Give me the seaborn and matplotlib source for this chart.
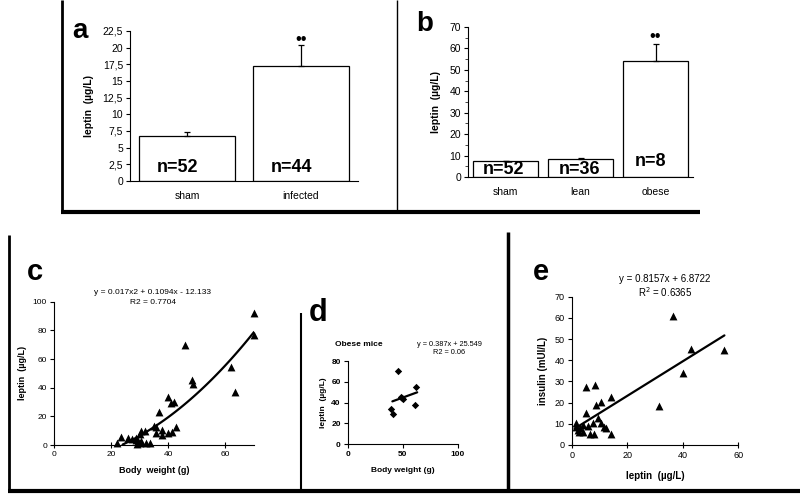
import numpy as np
import pandas as pd
import matplotlib
matplotlib.use("Agg")
import matplotlib.pyplot as plt
from matplotlib.lines import Line2D
import seaborn as sns

sns.set_style("ticks")
plt.rcParams["font.family"] = ["Liberation Sans", "DejaVu Sans"]
plt.rcParams["text.color"] = "black"
plt.rcParams["axes.labelcolor"] = "black"

# ---------------- data ----------------
a_categories = ["sham", "infected"]
a_means = [6.8, 17.3]
a_err = [0.5, 3.1]
a_n = ["n=52", "n=44"]
a_ticks = [0, 2.5, 5, 7.5, 10, 12.5, 15, 17.5, 20, 22.5]
a_ticklabels = ["0", "2,5", "5", "7,5", "10", "12,5", "15", "17,5", "20", "22,5"]

b_categories = ["sham", "lean", "obese"]
b_means = [7.3, 8.3, 54.1]
b_err = [0.4, 0.6, 7.8]
b_n = ["n=52", "n=36", "n=8"]
b_ticks = [0, 10, 20, 30, 40, 50, 60, 70]

c_weight = [70.1, 70.1, 45.8, 62.0, 63.5, 48.4, 48.8, 39.9, 41.0, 41.9, 36.7, 42.8,
            41.2, 39.9, 37.9, 37.9, 35.8, 34.9, 35.8, 31.7, 30.6, 30.0, 28.8, 27.4,
            25.9, 23.6, 21.9, 29.4, 30.0, 32.3, 33.7, 29.0, 28.7, 30.5]
c_leptin = [92.3, 76.5, 69.8, 54.7, 36.7, 45.3, 42.6, 33.3, 29.5, 30.0, 23.3, 12.3,
            9.3, 8.6, 10.5, 7.0, 8.1, 13.3, 12.8, 10.0, 9.8, 7.7, 4.7, 4.0,
            4.7, 5.8, 1.2, 3.0, 1.6, 1.6, 1.6, 0.7, 3.5, 2.5]
c_coef = [0.017, 0.1094, -12.133]
c_fit_range = [24, 70]

d_weight = [45.8, 62.3, 48.2, 49.7, 61.1, 39.5, 40.7, 49.0]
d_leptin = [70.4, 55.0, 45.8, 43.2, 37.4, 33.9, 29.4, 44.5]
d_coef = [0.387, 25.549]
d_fit_range = [40.5, 63]

e_leptin = [36.6, 43.0, 55.0, 40.0, 31.5, 5.2, 8.4, 14.0, 10.6, 8.6, 5.0, 9.4, 1.6,
            4.2, 6.0, 7.8, 10.6, 11.8, 12.4, 2.2, 2.8, 4.2, 6.6, 8.2, 14.2, 3.0, 1.4]
e_insulin = [61.0, 45.3, 44.8, 33.8, 18.6, 27.5, 28.2, 22.8, 20.1, 18.9, 15.3, 12.9,
             10.5, 9.4, 9.1, 10.5, 10.2, 8.3, 7.9, 7.1, 6.3, 6.3, 5.2, 5.2, 5.2, 7.9, 8.3]
e_coef = [0.8157, 6.8722]
e_fit_range = [1.0, 55.0]

# ---------------- figure ----------------
W, H = 800, 500
fig = plt.figure(figsize=(8, 5), dpi=100)


def rect(x0, y0, x1, y1):
    """pixel box (top-left origin) -> figure fraction rect"""
    return [x0 / W, 1 - y1 / H, (x1 - x0) / W, (y1 - y0) / H]


def ftext(x, y, s, **kw):
    fig.text(x / W, 1 - y / H, s, color="black", **kw)


def fline(x0, y0, x1, y1, lw):
    fig.add_artist(Line2D([x0 / W, x1 / W], [1 - y0 / H, 1 - y1 / H],
                          transform=fig.transFigure, color="black", lw=lw,
                          solid_capstyle="butt"))


def style(ax, fs=7):
    sns.despine(ax=ax)
    for s in ["left", "bottom"]:
        ax.spines[s].set_color("black")
        ax.spines[s].set_linewidth(0.8)
    ax.tick_params(axis="both", direction="out", length=3, width=0.8,
                   labelsize=fs, colors="black", pad=2)


# ---- panel a ----
axa = fig.add_axes(rect(130, 31, 358, 181))
dfa = pd.DataFrame({"cat": a_categories, "val": a_means})
sns.barplot(data=dfa, x="cat", y="val", color="white", edgecolor="black",
            linewidth=0.9, width=0.85, ax=axa, errorbar=None)
axa.errorbar(range(len(a_means)), a_means, yerr=[[0] * len(a_err), a_err],
             fmt="none", ecolor="black", elinewidth=0.9, capsize=2.5, capthick=0.9)
for i, t in enumerate(a_n):
    axa.text(i - 0.08, 2.1, t, ha="center", va="center", fontsize=13,
             fontweight="bold", color="black")
axa.text(1, 21.2, "••", ha="center", va="center", fontsize=12, color="black")
axa.set_xlim(-0.5, 1.5)
axa.set_ylim(0, 22.5)
axa.set_yticks(a_ticks)
axa.set_yticklabels(a_ticklabels)
axa.set_xlabel("")
axa.set_ylabel("leptin  (µg/L)", fontsize=7.5, fontweight="bold", labelpad=6)
style(axa, 7.5)
axa.tick_params(axis="x", length=0, pad=7)

# ---- panel b ----
axb = fig.add_axes(rect(468, 27, 693, 177))
dfb = pd.DataFrame({"cat": b_categories, "val": b_means})
sns.barplot(data=dfb, x="cat", y="val", color="white", edgecolor="black",
            linewidth=0.9, width=0.87, ax=axb, errorbar=None)
axb.errorbar(range(len(b_means)), b_means, yerr=[[0] * len(b_err), b_err],
             fmt="none", ecolor="black", elinewidth=0.9, capsize=2.5, capthick=0.9)
b_npos = [3.3, 3.3, 7.0]
for i, t in enumerate(b_n):
    axb.text(i - 0.02 if i < 2 else i - 0.07, b_npos[i], t, ha="center",
             va="center", fontsize=13, fontweight="bold", color="black")
axb.text(2, 65.8, "••", ha="center", va="center", fontsize=12, color="black")
axb.set_xlim(-0.5, 2.5)
axb.set_ylim(0, 70)
axb.set_yticks(b_ticks)
axb.set_yticks([5, 15, 25, 35, 45, 55, 65], minor=True)
axb.set_xlabel("")
axb.set_ylabel("leptin  (µg/L)", fontsize=7.5, fontweight="bold", labelpad=6)
style(axb, 7.5)
axb.tick_params(axis="y", which="minor", length=2, width=0.6)
axb.tick_params(axis="x", length=0, pad=7)

# ---- panel c ----
axc = fig.add_axes(rect(54, 301.7, 254, 445))
sns.scatterplot(x=c_weight, y=c_leptin, marker="^", color="black", s=32,
                edgecolor="black", linewidth=0, ax=axc, clip_on=False)
xc = np.linspace(c_fit_range[0], c_fit_range[1], 100)
axc.plot(xc, np.polyval(c_coef, xc), color="black", lw=1.6)
axc.set_xlim(0, 70)
axc.set_ylim(0, 100)
axc.set_xticks([0, 20, 40, 60])
axc.set_yticks([0, 20, 40, 60, 80, 100])
axc.set_xlabel("Body  weight (g)", fontsize=6.5, fontweight="bold", labelpad=6)
axc.set_ylabel("leptin  (µg/L)", fontsize=6.5, fontweight="bold", labelpad=4)
style(axc, 6)
axc.tick_params(axis="x", direction="inout", length=4)
ftext(153, 293, "y = 0.017x2 + 0.1094x - 12.133", ha="center", va="center",
      fontsize=6)
ftext(153, 302, "R2 = 0.7704", ha="center", va="center", fontsize=6)

# ---- panel d ----
axd = fig.add_axes(rect(347.7, 361, 458, 444.3))
sns.scatterplot(x=d_weight, y=d_leptin, marker="D", color="black", s=14,
                edgecolor="black", linewidth=0, ax=axd)
xd = np.array(d_fit_range)
axd.plot(xd, np.polyval(d_coef, xd), color="black", lw=1.6)
axd.set_xlim(0, 100)
axd.set_ylim(0, 80)
axd.set_xticks([0, 50, 100])
axd.set_yticks([0, 20, 40, 60, 80])
axd.set_xlabel("Body weight (g)", fontsize=6, fontweight="bold", labelpad=6)
axd.set_ylabel("leptin  (µg/L)", fontsize=6, fontweight="bold", labelpad=3)
style(axd, 6)
for lab in axd.get_xticklabels() + axd.get_yticklabels():
    lab.set_fontweight("bold")
ftext(335, 345, "Obese mice", ha="left", va="center", fontsize=6,
      fontweight="bold")
ftext(449, 344, "y = 0.387x + 25.549", ha="center", va="center", fontsize=5.3)
ftext(449, 352, "R2 = 0.06", ha="center", va="center", fontsize=5.3)

# ---- panel e ----
axe = fig.add_axes(rect(571.7, 296.7, 738.3, 445))
sns.scatterplot(x=e_leptin, y=e_insulin, marker="^", color="black", s=32,
                edgecolor="black", linewidth=0, ax=axe)
xe = np.array(e_fit_range)
axe.plot(xe, np.polyval(e_coef, xe), color="black", lw=1.6)
axe.set_xlim(0, 60)
axe.set_ylim(0, 70)
axe.set_xticks([0, 20, 40, 60])
axe.set_yticks([0, 10, 20, 30, 40, 50, 60, 70])
axe.set_xlabel("leptin  (µg/L)", fontsize=7, fontweight="bold", labelpad=8)
axe.set_ylabel("insulin (mUI/L)", fontsize=7, fontweight="bold", labelpad=5)
style(axe, 6.5)
axe.tick_params(axis="x", direction="inout", length=5)
ftext(665, 278.5, "y = 0.8157x + 6.8722", ha="center", va="center", fontsize=7)
ftext(665, 292, "R$^2$ = 0.6365", ha="center", va="center", fontsize=7)

# ---- panel letters ----
ftext(80, 31, "a", ha="center", va="center", fontsize=20, fontweight="bold")
ftext(425, 24, "b", ha="center", va="center", fontsize=20, fontweight="bold")
ftext(35, 272, "c", ha="center", va="center", fontsize=21, fontweight="bold")
ftext(318, 313, "d", ha="center", va="center", fontsize=22, fontweight="bold")
ftext(541, 272, "e", ha="center", va="center", fontsize=21, fontweight="bold")

# ---- frame lines ----
fline(62, 0, 62, 213, 2)
fline(61, 212, 700, 212, 3)
fline(397, 0, 397, 212, 1)
fline(9, 235, 9, 492, 2)
fline(8, 491, 800, 491, 3)
fline(301, 313, 301, 491, 1.5)
fline(508, 232, 508, 491, 2.5)

fig.savefig("out.png", dpi=100)
